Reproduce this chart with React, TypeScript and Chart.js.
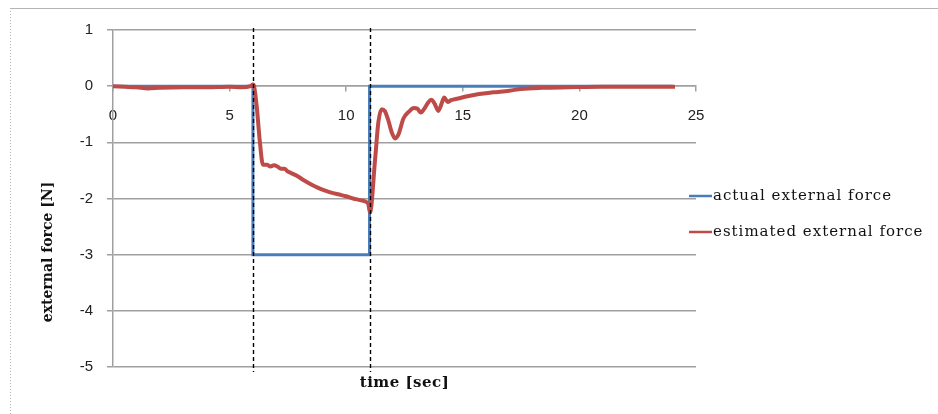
import React, { useEffect, useRef } from "react";
import { Chart, registerables } from "chart.js";

Chart.register(...registerables);

// ---- data ----
const actualTimes = [0, 6, 6, 11, 11, 24];
const actualForce = [0, 0, -3, -3, 0, 0];

const estimatedTimes = [
  0, 0.5, 1.0, 1.5, 2.0, 3.0, 4.0, 5.0, 5.5, 5.9, 6.0, 6.05, 6.16, 6.3, 6.43,
  6.6, 6.75, 6.9, 7.05, 7.2, 7.35, 7.5, 7.65, 7.9, 8.2, 8.5, 8.8, 9.1, 9.4,
  9.7, 10.0, 10.3, 10.6, 10.85, 10.95, 11.02, 11.24, 11.38, 11.52, 11.65,
  11.8, 11.95, 12.1, 12.25, 12.45, 12.7, 12.9, 13.05, 13.2, 13.35, 13.5,
  13.65, 13.8, 13.95, 14.1, 14.2, 14.35, 14.5, 14.8, 15.2, 15.7, 16.3, 17.0,
  17.5, 18.4, 19.5, 21.0, 22.5, 24.1,
];
const estimatedForce = [
  0, -0.01, -0.02, -0.04, -0.03, -0.02, -0.02, -0.01, -0.02, 0.0, 0.03, 0.0,
  -0.35, -1.0, -1.4, -1.4, -1.43, -1.41, -1.43, -1.47, -1.47, -1.52, -1.55,
  -1.6, -1.68, -1.75, -1.81, -1.86, -1.9, -1.93, -1.96, -2.0, -2.03, -2.06,
  -2.1, -2.25, -1.3, -0.64, -0.41, -0.44, -0.6, -0.82, -0.93, -0.85, -0.58,
  -0.45, -0.39, -0.4, -0.47, -0.4, -0.3, -0.24, -0.32, -0.44, -0.3, -0.2,
  -0.28, -0.25, -0.22, -0.18, -0.14, -0.11, -0.08, -0.05, -0.03, -0.02, -0.01,
  -0.01, -0.01,
];

const seriesLabels = ["actual external force", "estimated external force"];
const markerTimes = [6, 11];

const xTitle = "time [sec]";
const yTitle = "external force [N]";

const xMin = 0, xMax = 25, xStep = 5;
const yMin = -5, yMax = 1, yStep = 1;

const toPoints = (xs: number[], ys: number[]) => xs.map((x, i) => ({ x, y: ys[i] }));

const decorPlugin = {
  id: "decor",
  beforeDraw(chart: any) {
    const ctx = chart.ctx;
    ctx.save();
    ctx.strokeStyle = "#b4b4b4";
    ctx.lineWidth = 1;
    ctx.beginPath();
    ctx.moveTo(10, 8.5);
    ctx.lineTo(938, 8.5);
    ctx.stroke();
    ctx.setLineDash([1, 2]);
    ctx.beginPath();
    ctx.moveTo(10.5, 8);
    ctx.lineTo(10.5, 414);
    ctx.stroke();
    ctx.restore();
  },
  afterDatasetsDraw(chart: any) {
    const ctx = chart.ctx;
    const xs = chart.scales.x;
    const area = chart.chartArea;
    ctx.save();
    ctx.strokeStyle = "#000";
    ctx.lineWidth = 1.4;
    ctx.setLineDash([4, 3]);
    markerTimes.forEach((t) => {
      const px = Math.round(xs.getPixelForValue(t)) + 0.5;
      ctx.beginPath();
      ctx.moveTo(px, area.top - 2);
      ctx.lineTo(px, area.bottom + 5);
      ctx.stroke();
    });
    ctx.setLineDash([]);

    // legend
    chart.data.datasets.forEach((ds: any, i: number) => {
      const y = 196 + i * 36;
      ctx.strokeStyle = ds.borderColor;
      ctx.lineWidth = 2.5;
      ctx.beginPath();
      ctx.moveTo(689, y);
      ctx.lineTo(712, y);
      ctx.stroke();
      ctx.fillStyle = "#111";
      ctx.font = "15px 'DejaVu Serif'";
      (ctx as any).letterSpacing = "1px";
      ctx.textAlign = "left";
      ctx.textBaseline = "middle";
      ctx.fillText(ds.label, 713, y);
    });

    // axis titles
    ctx.fillStyle = "#111";
    ctx.font = "bold 15px 'DejaVu Serif'";
    (ctx as any).letterSpacing = "0.5px";
    ctx.textAlign = "center";
    ctx.textBaseline = "middle";
    ctx.fillText(xTitle, (area.left + area.right) / 2, 383);
    ctx.font = "bold 14px 'DejaVu Serif'";
    (ctx as any).letterSpacing = "0px";
    ctx.translate(48, 252);
    ctx.rotate(-Math.PI / 2);
    ctx.fillText(yTitle, 0, 0);
    ctx.restore();
  },
};

export default function App() {
  const ref = useRef<HTMLCanvasElement | null>(null);
  useEffect(() => {
    if (!ref.current) return;
    const chart = new Chart(ref.current, {
      type: "line",
      data: {
        datasets: [
          {
            label: seriesLabels[0],
            data: toPoints(actualTimes, actualForce),
            borderColor: "#4a7ebb",
            borderWidth: 3,
            pointRadius: 0,
            tension: 0,
            order: 1,
          },
          {
            label: seriesLabels[1],
            data: toPoints(estimatedTimes, estimatedForce),
            borderColor: "#be4b48",
            borderWidth: 4,
            pointRadius: 0,
            cubicInterpolationMode: "monotone",
            order: 0,
          },
        ],
      },
      options: {
        animation: false,
        responsive: false,
        events: [],
        layout: { padding: { left: 0, top: 30, right: 242, bottom: 47 } },
        plugins: { legend: { display: false }, tooltip: { enabled: false } },
        scales: {
          x: {
            type: "linear",
            position: { y: 0 } as any,
            min: xMin,
            max: xMax,
            ticks: {
              stepSize: xStep,
              color: "#222",
              font: { family: "'Liberation Sans'", size: 15 },
              padding: 16,
              maxRotation: 0,
            },
            grid: {
              drawOnChartArea: false,
              drawTicks: true,
              tickLength: 5,
              color: "#a0a0a0",
              lineWidth: 1.5,
            },
            border: { color: "#a0a0a0", width: 1.5 },
          },
          y: {
            type: "linear",
            position: "left",
            min: yMin,
            max: yMax,
            afterFit: (s: any) => {
              s.width = 113;
            },
            ticks: {
              stepSize: yStep,
              color: "#222",
              font: { family: "'Liberation Sans'", size: 15 },
              padding: 14,
            },
            grid: {
              color: "#a0a0a0",
              lineWidth: 1.5,
              tickLength: 6,
            },
            border: { color: "#a0a0a0", width: 1.5 },
          },
        },
      },
      plugins: [decorPlugin],
    });
    return () => chart.destroy();
  }, []);
  return (
    <div style={{ position: "absolute", left: 0, top: 0, width: 938, height: 414, background: "#fff" }}>
      <canvas ref={ref} width={938} height={414} style={{ width: 938, height: 414, display: "block" }} />
    </div>
  );
}
